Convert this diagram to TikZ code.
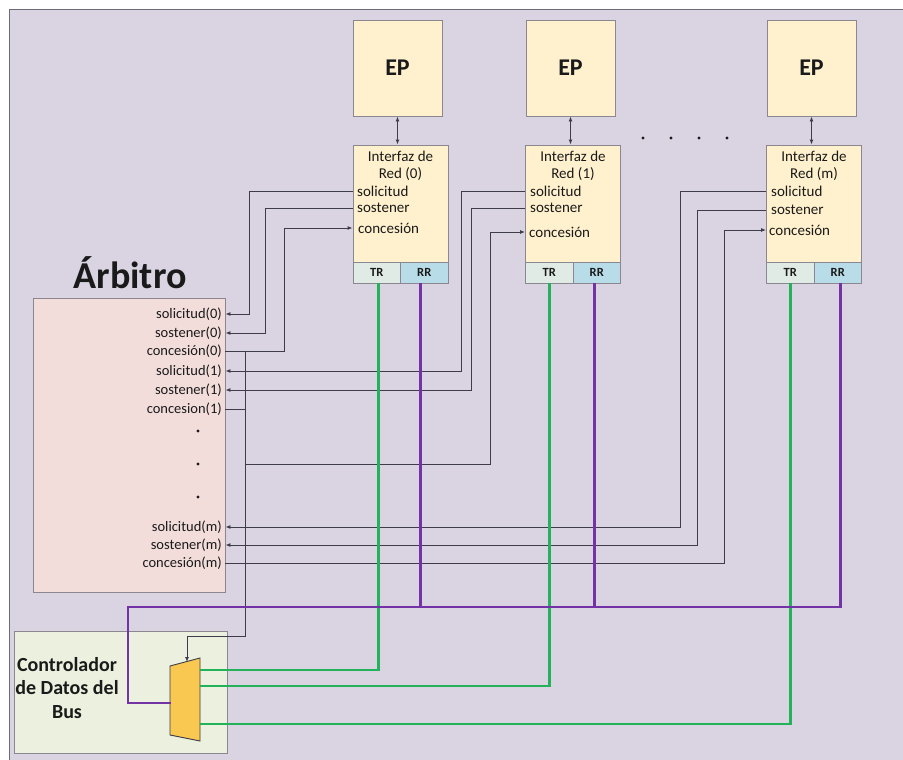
\documentclass[tikz,border=0pt]{standalone}
\usepackage{fontspec}
\setmainfont{Carlito}
\usetikzlibrary{arrows.meta}

\definecolor{bgc}{HTML}{DAD4E2}
\definecolor{framec}{HTML}{6E6A78}
\definecolor{boxc}{HTML}{8A8790}
\definecolor{epc}{HTML}{FFF1CD}
\definecolor{arbc}{HTML}{F2DDDB}
\definecolor{ctlc}{HTML}{EBF0DF}
\definecolor{trc}{HTML}{E1EBE5}
\definecolor{rrc}{HTML}{B8DDE8}
\definecolor{muxc}{HTML}{F9C850}
\definecolor{wirec}{HTML}{3E3C48}
\definecolor{txtc}{HTML}{1A1A1A}
\definecolor{trline}{HTML}{22B35A}
\definecolor{rrline}{HTML}{7333A4}

\tikzset{
  epbox/.style={draw=boxc, line width=0.9pt, fill=epc, minimum width=89pt, minimum height=96pt,
    inner sep=0pt, text=txtc, font=\bfseries\fontsize{24}{26}\selectfont},
  ifbox/.style={draw=boxc, line width=0.9pt, fill=epc, minimum width=95pt, minimum height=138pt, inner sep=0pt},
  iftitle/.style={align=center, inner sep=0pt, text=txtc, font=\fontsize{15}{17}\selectfont},
  iflbl/.style={anchor=west, inner sep=0pt, text=txtc, font=\fontsize{15}{16}\selectfont},
  arblbl/.style={anchor=east, inner sep=0pt, text=txtc, font=\fontsize{14.5}{16}\selectfont},
  trbox/.style={draw=boxc, line width=0.9pt, fill=trc, minimum width=47.5pt, minimum height=21pt,
    inner sep=0pt, text=txtc, font=\bfseries\fontsize{12.5}{14}\selectfont},
  rrbox/.style={trbox, fill=rrc},
  wire/.style={draw=wirec, line width=0.9pt},
  arr/.style={-{Latex[length=5pt,width=4pt]}},
  biarr/.style={{Latex[length=5pt,width=4pt]}-{Latex[length=5pt,width=4pt]}},
  trw/.style={draw=trline, line width=2.8pt},
  rrw/.style={draw=rrline, line width=2.8pt},
  dotmark/.style={fill=txtc},
}

\begin{document}
\begin{tikzpicture}[x=1pt,y=-1pt]
\useasboundingbox (0,0) rectangle (903,760);
\fill[white] (0,0) rectangle (903,760);
\filldraw[fill=bgc, draw=framec, line width=1pt] (9,10) rectangle (915,775);

% processing elements
\node[epbox] (ep0) at (397.5,68) {EP};
\node[epbox] (ep1) at (570.5,68) {EP};
\node[epbox] (epm) at (811.5,68) {EP};

% network interfaces
\node[ifbox] (if0) at (400.5,214) {};
\node[ifbox] (if1) at (573,214) {};
\node[ifbox] (ifm) at (814,214) {};

\foreach \i in {0,1,m}{
  \node[trbox, anchor=south west] (tr\i) at (if\i.south west) {TR};
  \node[rrbox, anchor=south east] (rr\i) at (if\i.south east) {RR};
}

\node[iftitle] (t0) at (400.5,165.5) {Interfaz de\\Red (0)};
\node[iftitle] (t1) at (573,165.5) {Interfaz de\\Red (1)};
\node[iftitle] (tm) at (814,165.5) {Interfaz de\\Red (m)};

\node[iflbl] (s0) at (357,191) {solicitud};
\node[iflbl] (h0) at (357,208) {sostener};
\node[iflbl] (c0) at (358,228) {concesión};
\node[iflbl] (s1) at (530,191) {solicitud};
\node[iflbl] (h1) at (530,208) {sostener};
\node[iflbl] (c1) at (529,232) {concesión};
\node[iflbl] (sm) at (771,191) {solicitud};
\node[iflbl] (hm) at (771,210) {sostener};
\node[iflbl] (cm) at (769,230) {concesión};

% EP <-> interface links
\draw[wire,biarr] (ep0.south) -- (ep0.south |- if0.north);
\draw[wire,biarr] (ep1.south) -- (ep1.south |- if1.north);
\draw[wire,biarr] (epm.south) -- (epm.south |- ifm.north);

% ellipsis between interfaces
\foreach \x [count=\k] in {643,671,699,727}
  \fill[dotmark] (\x,138) circle (1.7pt) coordinate (td\k);

% arbiter
\node[font=\bfseries\fontsize{38}{40}\selectfont, text=txtc, anchor=base, inner sep=0pt] (arbt) at (130,288) {Árbitro};
\node[draw=boxc, line width=0.9pt, fill=arbc, minimum width=192pt, minimum height=294pt, inner sep=0pt] (arb) at (129,445) {};

\node[arblbl] (as0) at (222,314) {solicitud(0)};
\node[arblbl] (ah0) at (222,333) {sostener(0)};
\node[arblbl] (ac0) at (222,351) {concesión(0)};
\node[arblbl] (as1) at (222,371) {solicitud(1)};
\node[arblbl] (ah1) at (222,390) {sostener(1)};
\node[arblbl] (ac1) at (222,409) {concesion(1)};
\node[arblbl] (asm) at (222,527) {solicitud(m)};
\node[arblbl] (ahm) at (222,545) {sostener(m)};
\node[arblbl] (acm) at (222,563) {concesión(m)};

\fill[dotmark] (198,431) circle (1.7pt) coordinate (d1);
\fill[dotmark] (198,464) circle (1.7pt) coordinate (d2);
\fill[dotmark] (198,497) circle (1.7pt) coordinate (d3);

% bus data controller
\node[draw=boxc, line width=0.9pt, fill=ctlc, minimum width=213pt, minimum height=122pt, inner sep=0pt] (ctl) at (120.5,692) {};
\node[align=center, inner sep=0pt, text=txtc, font=\bfseries\fontsize{20}{23.5}\selectfont] (ctlt) at (67,688) {Controlador\\de Datos del\\Bus};

% multiplexer
\filldraw[fill=muxc, draw=wirec, line width=0.9pt] (170,666) -- (200,658) -- (200,741) -- (170,735) -- cycle;
\coordinate (muxctl) at (187,662);
\coordinate (mr0) at (200,670);
\coordinate (mr1) at (200,686);
\coordinate (mrm) at (200,724);
\coordinate (ml) at (171,703);
\coordinate (bus) at (245,351);
\coordinate (pc) at (128,607);

% request / hold lines to the arbiter
\draw[wire,arr] (if0.west |- s0) -- ++(-103,0) |- (arb.east |- as0);
\draw[wire,arr] (if0.west |- h0) -- ++(-87,0) |- (arb.east |- ah0);
\draw[wire,arr] (if1.west |- s1) -- ++(-64,0) |- (arb.east |- as1);
\draw[wire,arr] (if1.west |- h1) -- ++(-54,0) |- (arb.east |- ah1);
\draw[wire,arr] (ifm.west |- sm) -- ++(-86,0) |- (arb.east |- asm);
\draw[wire,arr] (ifm.west |- hm) -- ++(-69,0) |- (arb.east |- ahm);

% grant lines
\draw[wire,arr] (arb.east |- ac0) -- ++(59,0) |- (if0.west |- c0);
\draw[wire] (arb.east |- ac1) -- (bus |- ac1);
\draw[wire,arr] (bus |- d2) -- ++(245,0) |- (if1.west |- c1);
\draw[wire,arr] (arb.east |- acm) -- ++(499,0) |- (ifm.west |- cm);
\draw[wire,arr] (bus) -- ++(0,285) -| (muxctl);

% transmit lines
\draw[trw] ([xshift=2pt]tr0.south) |- (mr0);
\draw[trw] (tr1.south) |- (mr1);
\draw[trw] (trm.south) |- (mrm);

% receive lines
\draw[rrw] ([xshift=3pt]rrm.south) |- (pc) |- (ml);
\draw[rrw] ([xshift=-4pt]rr0.south) -- ([xshift=-4pt]rr0.south |- pc);
\draw[rrw] ([xshift=-2pt]rr1.south) -- ([xshift=-2pt]rr1.south |- pc);
\end{tikzpicture}
\end{document}
